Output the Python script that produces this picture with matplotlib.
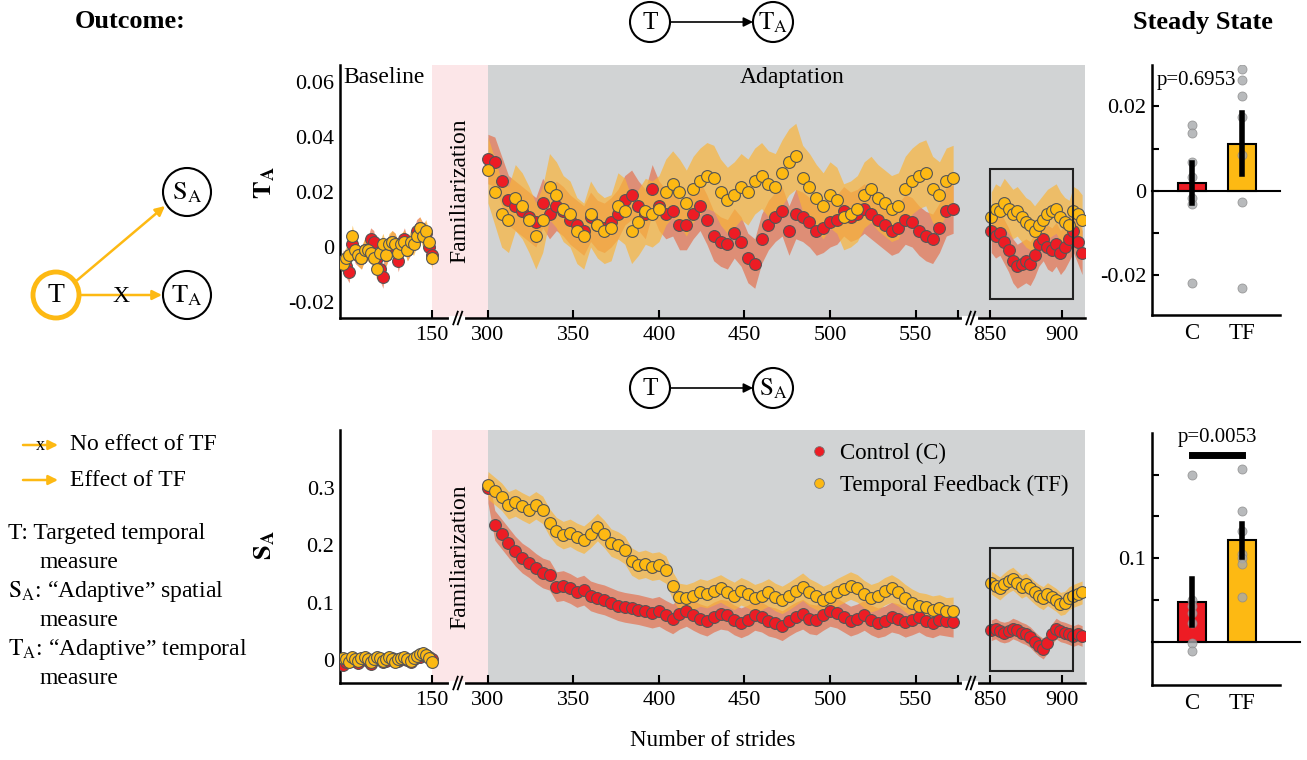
import numpy as np
import matplotlib
matplotlib.use("Agg")
import matplotlib.pyplot as plt
from matplotlib.patches import Circle, Rectangle
from matplotlib.lines import Line2D

plt.rcParams["font.family"] = ["Liberation Serif", "DejaVu Serif"]
plt.rcParams["mathtext.fontset"] = "stix"

RED = "#ed1c24"
YEL = "#fdb913"

# %%
# data: stride positions of each segment
base_x = list(range(5, 151, 5))
adapt_x = list(range(300, 573, 4))
late_x = list(range(851, 915, 3))

# T_A (top panel)
ta_base_c = [-0.005, -0.007, -0.009, 0.001, -0.002, -0.003, -0.004, -0.001, -0.001, 0.003,
             0.002, -0.004, -0.008, -0.011, -0.003, 0.000, 0.002, 0.001, -0.005, 0.000,
             0.003, -0.001, 0.001, 0.002, 0.006, 0.007, 0.005, 0.005, 0.000, -0.003]
ta_base_tf = [-0.006, -0.004, -0.003, 0.004, -0.001, -0.003, -0.004, -0.001, -0.001, -0.002,
              -0.004, -0.008, -0.002, 0.001, -0.003, 0.001, 0.002, 0.001, -0.002, 0.001,
              0.002, -0.001, 0.002, 0.001, 0.004, 0.007, 0.004, 0.006, 0.002, -0.004]
ta_adapt_c = [0.032, 0.031, 0.024, 0.017, 0.015, 0.013, 0.011, 0.009, 0.016, 0.012,
              0.015, 0.013, 0.010, 0.008, 0.006, 0.011, 0.008, 0.007, 0.009, 0.012,
              0.017, 0.019, 0.015, 0.012, 0.021, 0.015, 0.012, 0.013, 0.008, 0.008,
              0.012, 0.015, 0.010, 0.004, 0.002, 0.001, 0.005, 0.002, -0.004, -0.006,
              0.003, 0.008, 0.011, 0.013, 0.006, 0.012, 0.011, 0.009, 0.006, 0.007,
              0.009, 0.010, 0.013, 0.011, 0.012, 0.014, 0.012, 0.010, 0.008, 0.006,
              0.007, 0.010, 0.009, 0.006, 0.004, 0.003, 0.007, 0.013, 0.014]
ta_adapt_tf = [0.028, 0.020, 0.012, 0.010, 0.018, 0.015, 0.010, 0.004, 0.010, 0.022,
               0.019, 0.014, 0.012, 0.006, 0.004, 0.012, 0.008, 0.006, 0.007, 0.015,
               0.013, 0.006, 0.009, 0.013, 0.012, 0.014, 0.020, 0.023, 0.020, 0.016,
               0.021, 0.024, 0.026, 0.025, 0.020, 0.017, 0.019, 0.022, 0.020, 0.024,
               0.026, 0.023, 0.022, 0.027, 0.031, 0.033, 0.025, 0.022, 0.018, 0.015,
               0.019, 0.017, 0.011, 0.012, 0.014, 0.019, 0.021, 0.018, 0.016, 0.014,
               0.015, 0.021, 0.024, 0.026, 0.027, 0.021, 0.019, 0.024, 0.025]
ta_late_c = [0.006, 0.004, 0.005, 0.002, -0.001, -0.005, -0.007, -0.006, -0.005, -0.006, -0.003,
             0.001, 0.003, 0.000, -0.001, 0.001, -0.002, 0.000, 0.003, 0.006, 0.002, -0.002]
ta_late_tf = [0.011, 0.014, 0.013, 0.016, 0.014, 0.012, 0.013, 0.011, 0.009, 0.008, 0.006,
              0.008, 0.010, 0.012, 0.013, 0.014, 0.011, 0.009, 0.008, 0.013, 0.012, 0.010]
ta_se_c = [0.004, 0.009, 0.008]
ta_se_tf = [0.004, 0.012, 0.009]

# S_A (bottom panel)
sa_base_c = [-0.008, -0.003, 0.001, 0.004, -0.002, -0.005, 0.001, 0.004, -0.001, -0.006,
             0.000, 0.004, 0.001, -0.003, -0.001, 0.003, 0.004, -0.002, -0.002, 0.002,
             0.004, 0.000, -0.003, 0.002, 0.005, 0.006, 0.008, 0.009, 0.006, 0.002]
sa_base_tf = [0.004, 0.002, -0.003, 0.005, 0.002, -0.002, 0.003, 0.006, 0.001, -0.004,
              0.002, 0.006, 0.003, -0.002, 0.001, 0.005, 0.002, -0.003, 0.001, 0.004,
              0.006, 0.002, -0.001, 0.003, 0.007, 0.010, 0.012, 0.008, 0.004, -0.003]
sa_adapt_c = [0.300, 0.235, 0.220, 0.205, 0.190, 0.178, 0.170, 0.160, 0.152, 0.148,
              0.128, 0.130, 0.125, 0.118, 0.122, 0.112, 0.108, 0.105, 0.100, 0.095,
              0.092, 0.090, 0.088, 0.085, 0.082, 0.085, 0.078, 0.072, 0.080, 0.085,
              0.078, 0.072, 0.068, 0.075, 0.080, 0.078, 0.070, 0.065, 0.070, 0.078,
              0.075, 0.068, 0.065, 0.060, 0.068, 0.075, 0.080, 0.072, 0.070, 0.078,
              0.085, 0.082, 0.075, 0.068, 0.072, 0.078, 0.070, 0.065, 0.068, 0.075,
              0.072, 0.066, 0.070, 0.075, 0.068, 0.065, 0.070, 0.068, 0.066]
sa_adapt_tf = [0.305, 0.295, 0.285, 0.270, 0.275, 0.268, 0.262, 0.270, 0.262, 0.240,
               0.225, 0.218, 0.222, 0.215, 0.210, 0.220, 0.232, 0.220, 0.205, 0.200,
               0.192, 0.172, 0.165, 0.168, 0.163, 0.165, 0.158, 0.130, 0.110, 0.108,
               0.112, 0.118, 0.115, 0.120, 0.125, 0.118, 0.112, 0.120, 0.115, 0.108,
               0.112, 0.118, 0.110, 0.105, 0.112, 0.120, 0.128, 0.118, 0.112, 0.105,
               0.110, 0.118, 0.124, 0.130, 0.125, 0.115, 0.108, 0.112, 0.120, 0.125,
               0.118, 0.108, 0.100, 0.094, 0.092, 0.088, 0.090, 0.085, 0.086]
sa_late_c = [0.052, 0.055, 0.050, 0.048, 0.050, 0.055, 0.052, 0.048, 0.045, 0.040, 0.032,
             0.025, 0.020, 0.030, 0.045, 0.055, 0.050, 0.048, 0.045, 0.042, 0.045, 0.042]
sa_late_tf = [0.135, 0.130, 0.125, 0.132, 0.138, 0.142, 0.135, 0.128, 0.132, 0.125, 0.118,
              0.112, 0.108, 0.115, 0.110, 0.105, 0.098, 0.100, 0.108, 0.112, 0.115, 0.118]
sa_se_c = [0.007, 0.026, 0.018]
sa_se_tf = [0.006, 0.024, 0.020]

# steady state bars
groups = ["C", "TF"]
ta_mean = [0.0018, 0.011]
ta_err = [(-0.0029, 0.0067), (0.0039, 0.0184)]
ta_subj_c = [0.0155, 0.0137, 0.0069, 0.0033, -0.0017, -0.0030, -0.0218]
ta_subj_tf = [0.0289, 0.0263, 0.0224, 0.0175, 0.0084, -0.0027, -0.0231]
sa_mean = [0.048, 0.1212]
sa_err = [(0.020, 0.0752), (0.1012, 0.1408)]
sa_subj_c = [0.1992, 0.050, 0.0428, 0.0348, 0.022, -0.0012, -0.0108]
sa_subj_tf = [0.2072, 0.1564, 0.1328, 0.1048, 0.100, 0.0932, 0.054]

# %%
# broken stride axis
knot_s = [0, 150, 300, 580, 850, 920]
knot_u = [0, 92, 148, 627, 650, 751]


def fwd(s):
    return np.interp(s, knot_s, knot_u)


def inv(u):
    return np.interp(u, knot_u, knot_s)


W, H = 1307, 760
fig = plt.figure(figsize=(W / 100, H / 100), dpi=100)


def box(l, t, r, b):
    return [l / W, 1 - b / H, (r - l) / W, (b - t) / H]


def series_panel(ax, c_segs, tf_segs, se_c, se_tf, ylim):
    ax.set_xscale("function", functions=(fwd, inv))
    ax.set_xlim(0, 916)
    ax.set_ylim(*ylim)
    ax.axvspan(150, 300, color="#fce6e8", lw=0, zorder=0)
    ax.axvspan(300, 916, color="#d1d3d4", lw=0, zorder=0)
    xs = [base_x, adapt_x, late_x]
    for x, c, t, sc, st in zip(xs, c_segs, tf_segs, se_c, se_tf):
        x = np.array(x)
        c = np.array(c)
        t = np.array(t)
        ax.fill_between(x, c - sc, c + sc, color="#e4714f", alpha=0.7, lw=0, zorder=1)
        ax.fill_between(x, t - st, t + st, color="#f9b53a", alpha=0.7, lw=0, zorder=1.5)
        ax.plot(x, c, "o", ms=8.5, mfc=RED, mec="#555555", mew=0.8, zorder=3)
        ax.plot(x, t, "o", ms=8.5, mfc=YEL, mec="#555555", mew=0.8, zorder=4)
    for sp in ["top", "right"]:
        ax.spines[sp].set_visible(False)
    for sp in ["left", "bottom"]:
        ax.spines[sp].set_linewidth(1.8)
    ax.set_xticks([150, 300, 350, 400, 450, 500, 550, 850, 900])
    ax.set_xticklabels(["150", "300", "350", "400", "450", "500", "550", "850", "900"])
    ax.set_xticks([575], minor=True)
    ax.tick_params(axis="x", which="both", direction="in", length=6, width=1.5,
                   labelsize=16, pad=6)
    ax.tick_params(axis="y", length=0, labelsize=16, pad=4)
    # axis breaks
    for xb in [(460 - 340) / 745, (973 - 340) / 745]:
        ax.plot([xb - 0.012, xb + 0.004], [0, 0], color="white", lw=3,
                transform=ax.transAxes, clip_on=False, zorder=5)
        for dx in [-0.006, 0.0]:
            ax.plot([xb + dx - 0.003, xb + dx + 0.003], [-0.025, 0.025], color="black",
                    lw=1.3, transform=ax.transAxes, clip_on=False, zorder=6)


# %%
# top time series
ax1 = fig.add_axes(box(340, 65, 1085, 318))
series_panel(ax1, [ta_base_c, ta_adapt_c, ta_late_c], [ta_base_tf, ta_adapt_tf, ta_late_tf],
             ta_se_c, ta_se_tf, (-0.0258, 0.0662))
ax1.set_yticks([-0.02, 0, 0.02, 0.04, 0.06])
ax1.set_yticklabels(["-0.02", "0", "0.02", "0.04", "0.06"])
ax1.add_patch(Rectangle((850, -0.0189), 57.6, 0.0473, fill=False, ec="#222222", lw=1.5, zorder=6))
ax1.text(0.004, 0.95, "Baseline", transform=ax1.transAxes, fontsize=17, va="center")
ax1.text(0.607, 0.95, "Adaptation", transform=ax1.transAxes, fontsize=17, va="center", ha="center")
ax1.text(225, 0.0205, "Familiarization", rotation=90, fontsize=17, ha="center", va="center")

# bottom time series
ax2 = fig.add_axes(box(340, 430, 1085, 683))
series_panel(ax2, [sa_base_c, sa_adapt_c, sa_late_c], [sa_base_tf, sa_adapt_tf, sa_late_tf],
             sa_se_c, sa_se_tf, (-0.040, 0.4014))
ax2.set_yticks([0, 0.1, 0.2, 0.3])
ax2.set_yticklabels(["0", "0.1", "0.2", "0.3"])
ax2.add_patch(Rectangle((850, -0.019), 57.6, 0.2145, fill=False, ec="#222222", lw=1.5, zorder=6))
ax2.text(225, 0.18, "Familiarization", rotation=90, fontsize=17, ha="center", va="center")
ax2.set_xlabel("Number of strides", fontsize=16.5, labelpad=14)
handles = [Line2D([], [], marker="o", ls="", ms=7, mfc=RED, mec="#777777", mew=0.6),
           Line2D([], [], marker="o", ls="", ms=7, mfc=YEL, mec="#777777", mew=0.6)]
ax2.legend(handles, ["Control (C)", "Temporal Feedback (TF)"], loc="upper right",
           bbox_to_anchor=(1.005, 1.03), frameon=False, fontsize=16.5,
           handletextpad=0.3, labelspacing=0.45, handlelength=1.2)


# %%
# steady state bars
def bar_panel(ax, means, errs, subj_c, subj_tf, ylim, yt, ylabels, zero_end):
    ax.set_xlim(-0.79, 1.75)
    ax.set_ylim(*ylim)
    ax.bar([0, 1], means, width=0.55, color=[RED, YEL], edgecolor="black", lw=1.5, zorder=2)
    ax.plot([-0.79, zero_end], [0, 0], color="black", lw=1.5, clip_on=False, zorder=2.5)
    ax.plot([0] * len(subj_c), subj_c, "o", ms=6.5, mfc="#a7a9ac", mec="#8a8a8a",
            mew=0.6, alpha=0.8, zorder=3)
    ax.plot([1] * len(subj_tf), subj_tf, "o", ms=6.5, mfc="#a7a9ac", mec="#8a8a8a",
            mew=0.6, alpha=0.8, zorder=3)
    for i, (lo, hi) in enumerate(errs):
        ax.plot([i, i], [lo, hi], color="black", lw=4, solid_capstyle="projecting", zorder=4)
    for sp in ["top", "right"]:
        ax.spines[sp].set_visible(False)
    for sp in ["left", "bottom"]:
        ax.spines[sp].set_linewidth(1.8)
    ax.set_xticks([0, 1])
    ax.set_xticklabels(groups)
    ax.set_yticks(yt)
    ax.set_yticklabels(ylabels)
    ax.tick_params(axis="x", length=0, labelsize=16.5, pad=6)
    ax.tick_params(axis="y", direction="in", length=5, width=1.5, labelsize=16, pad=4)


ax3 = fig.add_axes(box(1152, 65, 1280, 315))
bar_panel(ax3, ta_mean, ta_err, ta_subj_c, ta_subj_tf, (-0.0294, 0.0298),
          [-0.02, -0.01, 0, 0.01, 0.02], ["-0.02", "", "0", "", "0.02"], 1.75)
ax3.text(0.1, 0.0262, "p=0.6953", fontsize=15, ha="center", va="center")

ax4 = fig.add_axes(box(1152, 433, 1280, 685))
bar_panel(ax4, sa_mean, sa_err, sa_subj_c, sa_subj_tf, (-0.052, 0.25),
          [0, 0.05, 0.1, 0.15, 0.2], ["", "", "0.1", "", ""], 2.14)
ax4.plot([0, 1], [0.224, 0.224], color="black", lw=5, zorder=4)
ax4.text(0.5, 0.245, "p=0.0053", fontsize=15, ha="center", va="center")

# %%
# diagrams and annotations on a full-figure overlay
ov = fig.add_axes([0, 0, 1, 1], zorder=10)
ov.set_xlim(0, W)
ov.set_ylim(H, 0)
ov.axis("off")
ov.patch.set_alpha(0)


def node(x, y, label, r=20, ec="black", lw=1.5, fs=18):
    ov.add_patch(Circle((x, y), r, fc="white", ec=ec, lw=lw))
    ov.text(x, y + 1, label, fontsize=fs, ha="center", va="center")


def arrow(x0, y0, x1, y1, color, lw=1.8):
    ov.annotate("", xy=(x1, y1), xytext=(x0, y0),
                arrowprops=dict(arrowstyle="-|>", color=color, lw=lw, mutation_scale=14,
                                shrinkA=0, shrinkB=0))


TA = r"$\mathrm{T}_\mathrm{A}$"
SA = r"$\mathrm{S}_\mathrm{A}$"

ov.text(130, 22, "Outcome:", fontsize=19, fontweight="bold", ha="center", va="center")
ov.text(1203, 22, "Steady State", fontsize=19, fontweight="bold", ha="center", va="center")

node(650, 22, "T")
node(773, 22, TA)
arrow(670, 22, 753, 22, "black", lw=1.2)
node(650, 388, "T")
node(773, 388, SA)
arrow(670, 388, 753, 388, "black", lw=1.2)

# left causal diagram
node(56, 295, "T", r=23, ec=YEL, lw=3.5, fs=20)
node(187, 192, SA, r=24, fs=19)
node(187, 295, TA, r=24, fs=19)
arrow(75, 282, 165, 206, YEL)
arrow(80, 295, 162, 295, YEL)
ov.text(121, 296, "X", fontsize=17, ha="center", va="center")

ov.text(265, 183, r"$\mathbf{T_A}$", fontsize=19, rotation=90, ha="center", va="center")
ov.text(265, 545, r"$\mathbf{S_A}$", fontsize=19, rotation=90, ha="center", va="center")

# legend of the diagram
arrow(23, 445, 58, 445, YEL)
ov.text(40, 445, "x", fontsize=13, ha="center", va="center")
ov.text(70, 445, "No effect of TF", fontsize=17, va="center")
arrow(23, 480, 58, 480, YEL)
ov.text(70, 480, "Effect of TF", fontsize=17, va="center")

ov.text(8, 533, "T: Targeted temporal", fontsize=17, va="center")
ov.text(40, 563, "measure", fontsize=17, va="center")
ov.text(8, 592, SA + ": \u201cAdaptive\u201d spatial", fontsize=17, va="center")
ov.text(40, 620, "measure", fontsize=17, va="center")
ov.text(8, 650, TA + ": \u201cAdaptive\u201d temporal", fontsize=17, va="center")
ov.text(40, 678, "measure", fontsize=17, va="center")

fig.savefig("out.png", dpi=100)
